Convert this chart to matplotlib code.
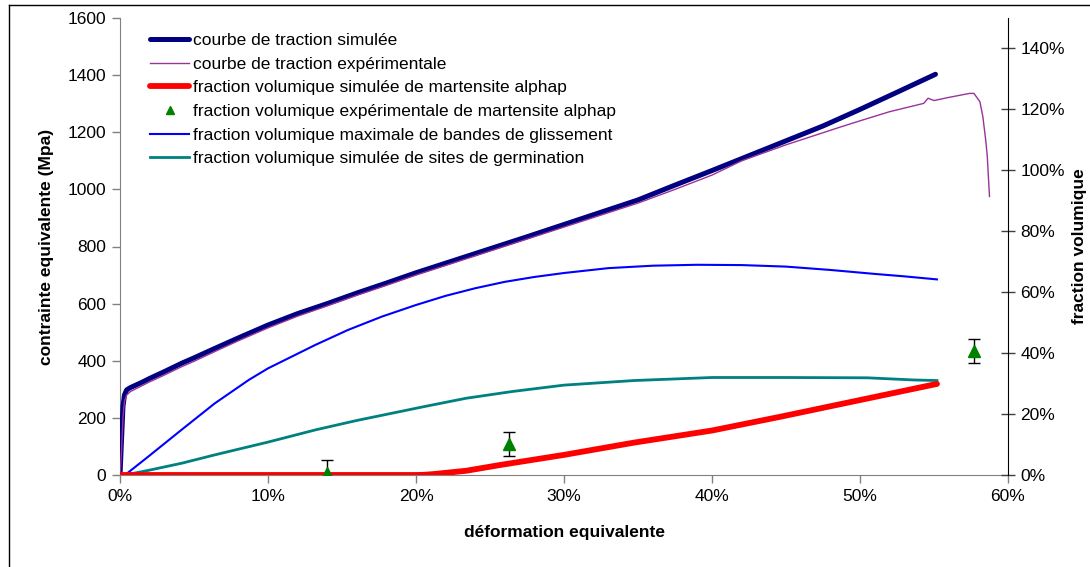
import matplotlib
matplotlib.use("Agg")
import matplotlib.pyplot as plt
from matplotlib.ticker import FuncFormatter, FixedLocator
from matplotlib.lines import Line2D

plt.rcParams['font.family'] = ['Liberation Sans', 'DejaVu Sans']

# --- data (strain in %, stress in MPa, fractions in %) ---
sim_strain = [0, 0.1, 0.2, 0.3, 0.45, 0.7, 1, 1.5, 2, 3, 4.2, 5, 6.4, 8, 10, 12, 14, 16, 18,
              20, 22.5, 25, 27.5, 30, 32.5, 35, 37.5, 40, 42.5, 45, 47.5, 50, 52.5, 55.1]
sim_stress = [0, 120, 240, 280, 298, 306, 313, 325, 338, 362, 392, 410, 443, 480, 525, 565,
              600, 637, 672, 708, 750, 792, 834, 877, 920, 963, 1015, 1066, 1118, 1170, 1222,
              1280, 1340, 1403]

exp_strain = [0, 0.1, 0.2, 0.3, 0.45, 0.7, 1, 1.5, 2, 3, 4.2, 5, 6.4, 8, 10, 12, 14, 16, 18,
              20, 22.5, 25, 27.5, 30, 32.5, 35, 37.5, 40, 42, 45, 48.6, 50, 52, 54.3, 54.6, 55,
              56, 57.4, 57.7, 58.1, 58.3, 58.5, 58.6, 58.75]
exp_stress = [0, 80, 200, 258, 280, 292, 300, 313, 326, 350, 380, 398, 432, 470, 515, 556,
              592, 629, 664, 700, 742, 784, 826, 868, 910, 952, 1000, 1050, 1100, 1156, 1217,
              1240, 1272, 1301, 1319, 1311, 1322, 1336, 1336, 1307, 1255, 1170, 1115, 975]

mart_strain = [0, 5, 10, 15, 20, 20.5, 21.2, 23.4, 25.7, 30, 34.7, 40, 44.6, 50, 55.2]
mart_frac = [0, 0, 0, 0, 0, 0.05, 0.3, 1.4, 3.3, 6.6, 10.6, 14.6, 19.1, 24.6, 29.9]

mart_exp_strain = [14.0, 26.3, 57.7]
mart_exp_frac = [0.8, 10.1, 40.7]
mart_exp_err = [4.0, 4.0, 3.9]

band_strain = [0, 0.34, 1.9, 4.2, 6.4, 8.7, 10, 13.2, 15.4, 17.7, 20, 22, 24, 26, 28, 30,
               33, 36, 39, 42, 45, 48, 51, 53, 55.2]
band_frac = [0, 0, 6.0, 15.0, 23.5, 31.2, 35.0, 42.7, 47.6, 52.0, 55.8, 58.8, 61.3, 63.4, 65.0,
             66.3, 67.9, 68.7, 69.0, 68.9, 68.4, 67.3, 66.0, 65.2, 64.2]

germ_strain = [0, 0.34, 1.9, 4.2, 6.4, 10, 13.2, 16, 18.9, 20.6, 23.4, 26.5, 30, 34.7, 40, 45,
               50.5, 53.6, 55.2]
germ_frac = [0, 0, 1.5, 3.9, 6.6, 10.8, 14.8, 17.9, 20.8, 22.5, 25.2, 27.4, 29.5, 31.0, 32.0,
             32.0, 31.9, 31.2, 31.0]

labels = ["courbe de traction simulée",
          "courbe de traction expérimentale",
          "fraction volumique simulée de martensite alphap",
          "fraction volumique expérimentale de martensite alphap",
          "fraction volumique maximale de bandes de glissement",
          "fraction volumique simulée de sites de germination"]

x_ticks = [0, 10, 20, 30, 40, 50, 60]
y1_ticks = [0, 200, 400, 600, 800, 1000, 1200, 1400, 1600]
y2_ticks = [0, 20, 40, 60, 80, 100, 120, 140]

# --- figure ---
W, H = 1090, 567
fig = plt.figure(figsize=(W / 100, H / 100), dpi=100)
ax = fig.add_axes([120 / W, 1 - 475 / H, (1008 - 120) / W, (475 - 18) / H])
ax2 = ax.twinx()

l_sim, = ax.plot(sim_strain, sim_stress, color='#000080', lw=3.6,
                 solid_capstyle='round', solid_joinstyle='round', zorder=3)
l_exp, = ax.plot(exp_strain, exp_stress, color='#993399', lw=1.0, zorder=4)

l_band, = ax2.plot(band_strain, band_frac, color='#0000FF', lw=1.5)
l_germ, = ax2.plot(germ_strain, germ_frac, color='#008080', lw=2.0)
l_mart, = ax2.plot(mart_strain, mart_frac, color='#FF0000', lw=4.2,
                   solid_capstyle='round', solid_joinstyle='round')
ax2.errorbar(mart_exp_strain, mart_exp_frac, yerr=mart_exp_err, fmt='none',
             ecolor='black', elinewidth=1.0, capsize=4.5, capthick=1.0, zorder=5)
l_pts, = ax2.plot(mart_exp_strain, mart_exp_frac, linestyle='none', marker='^',
                  color='#008000', markersize=8, zorder=6)

ax.set_xlim(0, 60)
ax.set_ylim(0, 1600)
ax2.set_ylim(0, 150)

ax.xaxis.set_major_locator(FixedLocator(x_ticks))
ax.yaxis.set_major_locator(FixedLocator(y1_ticks))
ax2.yaxis.set_major_locator(FixedLocator(y2_ticks))
ax.xaxis.set_major_formatter(FuncFormatter(lambda v, p: f"{v:.0f}%"))
ax2.yaxis.set_major_formatter(FuncFormatter(lambda v, p: f"{v:.0f}%"))

fs = 12.5
for a in (ax, ax2):
    a.spines['top'].set_visible(False)
ax.spines['right'].set_visible(False)
ax.spines['left'].set_color('#808080')
ax.spines['bottom'].set_color('#808080')
ax2.spines['left'].set_visible(False)
ax2.spines['bottom'].set_visible(False)
ax2.spines['right'].set_color('black')
ax.tick_params(axis='both', direction='out', length=6, width=1, color='#808080',
               labelsize=fs, pad=4)
ax2.tick_params(axis='y', direction='inout', length=10, width=1, color='#404040',
                labelsize=fs, pad=4)

ax.set_xlabel("déformation equivalente", fontsize=fs, fontweight='bold', labelpad=15)
ax.set_ylabel("contrainte equivalente (Mpa)", fontsize=fs, fontweight='bold', labelpad=10)
ax2.set_ylabel("fraction volumique", fontsize=fs, fontweight='bold', labelpad=5)

ax2.legend([l_sim, l_exp, l_mart, l_pts, l_band, l_germ], labels,
           loc='upper left', bbox_to_anchor=(150 / W, 1 - 33 / H),
           bbox_transform=fig.transFigure, frameon=False, fontsize=fs,
           handlelength=2.25, handletextpad=0.25, labelspacing=0.49, borderpad=0,
           borderaxespad=0, markerscale=0.8)

# outer frame (left and top edges visible)
fig.add_artist(Line2D([8.5 / W, 8.5 / W], [0, 1 - 4.5 / H], color='black', lw=1,
                      transform=fig.transFigure))
fig.add_artist(Line2D([8.5 / W, 1], [1 - 4.5 / H, 1 - 4.5 / H], color='black', lw=1,
                      transform=fig.transFigure))

fig.savefig("out.png", dpi=100)
